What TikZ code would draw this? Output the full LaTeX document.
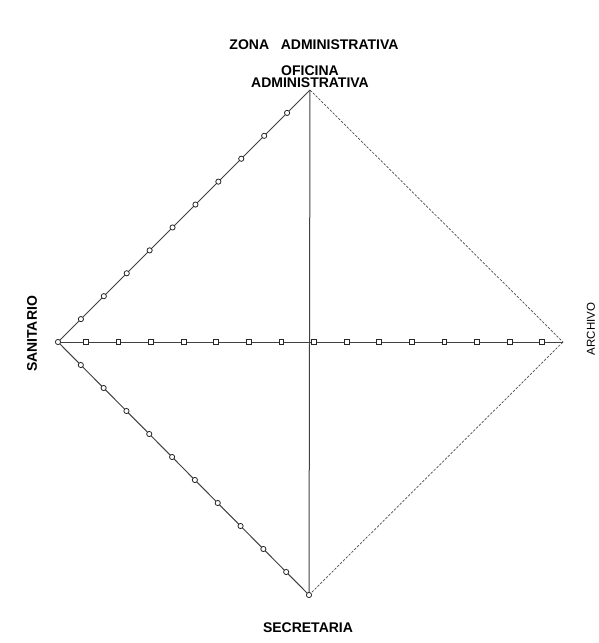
\documentclass[tikz,border=0pt]{standalone}
\usepackage{fontspec}
\setmainfont{Liberation Sans}
\usetikzlibrary{positioning}
\usetikzlibrary{calc}

\begin{document}
\begin{tikzpicture}[x=1pt, y=-1pt,
    every node/.style={font=\bfseries\fontsize{14}{14}\selectfont, inner sep=0pt},
    link/.style={draw=black!75, line width=1pt},
    dashlink/.style={draw=black!70, line width=0.7pt, dash pattern=on 2.5pt off 1.5pt},
    dot/.style={draw=black!85, fill=white, circle, line width=0.8pt, minimum size=5.2pt},
    sq/.style={draw=black!85, fill=white, rectangle, line width=0.8pt, minimum size=4.8pt}]
    \useasboundingbox (0,0) rectangle (599,643);

    \coordinate (ofi) at (310,90);
    \coordinate (san) at (58,342);
    \coordinate (arc) at (563,342);
    \coordinate (sec) at (309,595);

    \node (title) at (314,45) {ZONA\ \ \ ADMINISTRATIVA};
    \node[align=center, anchor=south] (ofilbl) at (310,88) {OFICINA\\[-1.5pt]ADMINISTRATIVA};
    \node[rotate=90] (sanlbl) at (32,334) {SANITARIO};
    \node[rotate=90, font=\fontsize{11.5}{11.5}\selectfont] (arclbl) at (591,329) {ARCHIVO};
    \node (seclbl) at (308,628) {SECRETARIA};

    \draw[link] (san) -- (ofi);
    \draw[link] (san) -- (sec);
    \draw[link] (san) -- (arc);
    \draw[link] (ofi) -- (sec);
    \draw[dashlink] (ofi) -- (arc);
    \draw[dashlink] (arc) -- (sec);

    % marcas
    \foreach \k in {0,...,10}
        \node[dot] (a\k) at ($(san)!\k/11!(ofi)$) {};
    \foreach \k in {1,...,11}
        \node[dot] (b\k) at ($(san)!\k/11!(sec)$) {};
    \foreach \j in {-7,...,7}
        \node[sq] (c\j) at ($(san)!0.5!(arc)+(\j*32.6+3.5,0)$) {};
\end{tikzpicture}
\end{document}
